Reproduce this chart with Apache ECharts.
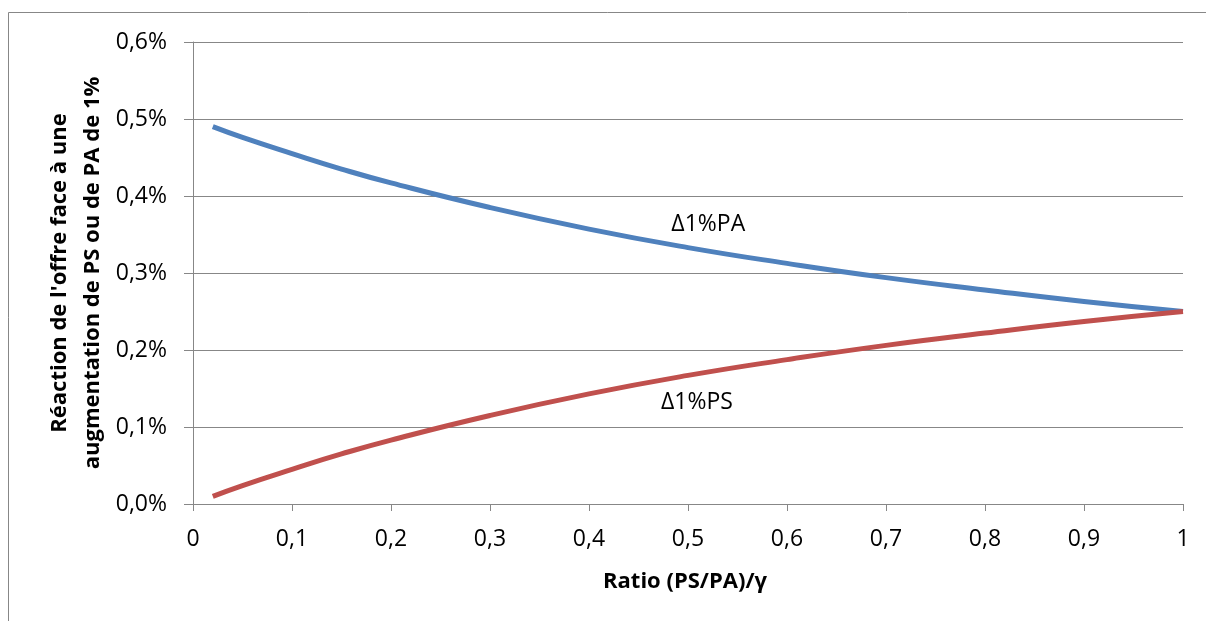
<!DOCTYPE html>
<html>
<head>
<meta charset="utf-8">
<script src="https://cdn.jsdelivr.net/npm/echarts@6/dist/echarts.min.js"></script>
<style>
html,body{margin:0;padding:0;background:#fff;}
#chart{width:1206px;height:621px;}
</style>
</head>
<body>
<div id="chart"></div>
<script>
// Ratio (PS/PA)/γ
const ratios = [0.02, 0.05, 0.1, 0.15, 0.2, 0.3, 0.4, 0.5, 0.6, 0.7, 0.8, 0.9, 1.0];
// Δ1%PA (in %)
const pa = [0.490, 0.476, 0.455, 0.435, 0.417, 0.385, 0.357, 0.333, 0.3125, 0.294, 0.278, 0.263, 0.250];
// Δ1%PS (in %)
const ps = [0.010, 0.024, 0.045, 0.065, 0.083, 0.115, 0.143, 0.167, 0.1875, 0.206, 0.222, 0.237, 0.250];
const xTicks = ['0','0,1','0,2','0,3','0,4','0,5','0,6','0,7','0,8','0,9','1'];
const yTicks = ['0,0%','0,1%','0,2%','0,3%','0,4%','0,5%','0,6%'];
const xTitle = 'Ratio (PS/PA)/γ';
const yTitle = "Réaction de l'offre face à une\naugmentation de PS ou de PA de 1%";
const paLabel = 'Δ1%PA';
const psLabel = 'Δ1%PS';

const FONT = 'Open Sans';
const chart = echarts.init(document.getElementById('chart'));
const grid = {left:193, right:23, top:42, bottom:117};
chart.setOption({
  animation:false,
  backgroundColor:'#fff',
  textStyle:{fontFamily:FONT},
  grid: grid,
  xAxis:{
    type:'value', min:0, max:1, interval:0.1,
    axisLine:{show:true, lineStyle:{color:'#878787', width:1}},
    axisTick:{show:true, length:7, lineStyle:{color:'#878787'}},
    splitLine:{show:false},
    axisLabel:{color:'#000', fontSize:23, fontFamily:FONT, margin:24,
      formatter:(v)=>xTicks[Math.round(v*10)]}
  },
  yAxis:{
    type:'value', min:0, max:0.6, interval:0.1,
    axisLine:{show:true, lineStyle:{color:'#878787', width:1}},
    axisTick:{show:true, length:9, inside:false, lineStyle:{color:'#878787'}},
    splitLine:{show:true, lineStyle:{color:'#878787', width:1}},
    axisLabel:{color:'#000', fontSize:23, fontFamily:FONT, margin:26,
      formatter:(v)=>yTicks[Math.round(v*10)]}
  },
  series:[
    {type:'line', name:paLabel, data:ratios.map((r,i)=>[r,pa[i]]), smooth:true, showSymbol:false,
     lineStyle:{color:'#4F81BD', width:5}, itemStyle:{color:'#4F81BD'},
     markPoint:{symbol:'circle', symbolSize:0, data:[{coord:[0.5205, 0.3625]}],
       label:{show:true, formatter:paLabel, color:'#000', fontSize:23, fontFamily:FONT, position:'inside'}}},
    {type:'line', name:psLabel, data:ratios.map((r,i)=>[r,ps[i]]), smooth:true, showSymbol:false,
     lineStyle:{color:'#C0504D', width:5}, itemStyle:{color:'#C0504D'},
     markPoint:{symbol:'circle', symbolSize:0, data:[{coord:[0.509, 0.1325]}],
       label:{show:true, formatter:psLabel, color:'#000', fontSize:23, fontFamily:FONT, position:'inside'}}}
  ],
  graphic:[
    {type:'rect', shape:{x:8.5, y:12.5, width:1210, height:630}, style:{fill:'none', stroke:'#878787', lineWidth:1}, silent:true, z:-1},
    {type:'text', x:685, y:582, style:{text:xTitle, font:'bold 22px "'+FONT+'"', fill:'#000', textAlign:'center', textVerticalAlign:'middle'}},
    {type:'text', x:76, y:273, rotation:Math.PI/2, style:{text:yTitle, font:'bold 22px "'+FONT+'"', fill:'#000', textAlign:'center', textVerticalAlign:'middle', lineHeight:33}}
  ]
});
</script>
</body>
</html>
